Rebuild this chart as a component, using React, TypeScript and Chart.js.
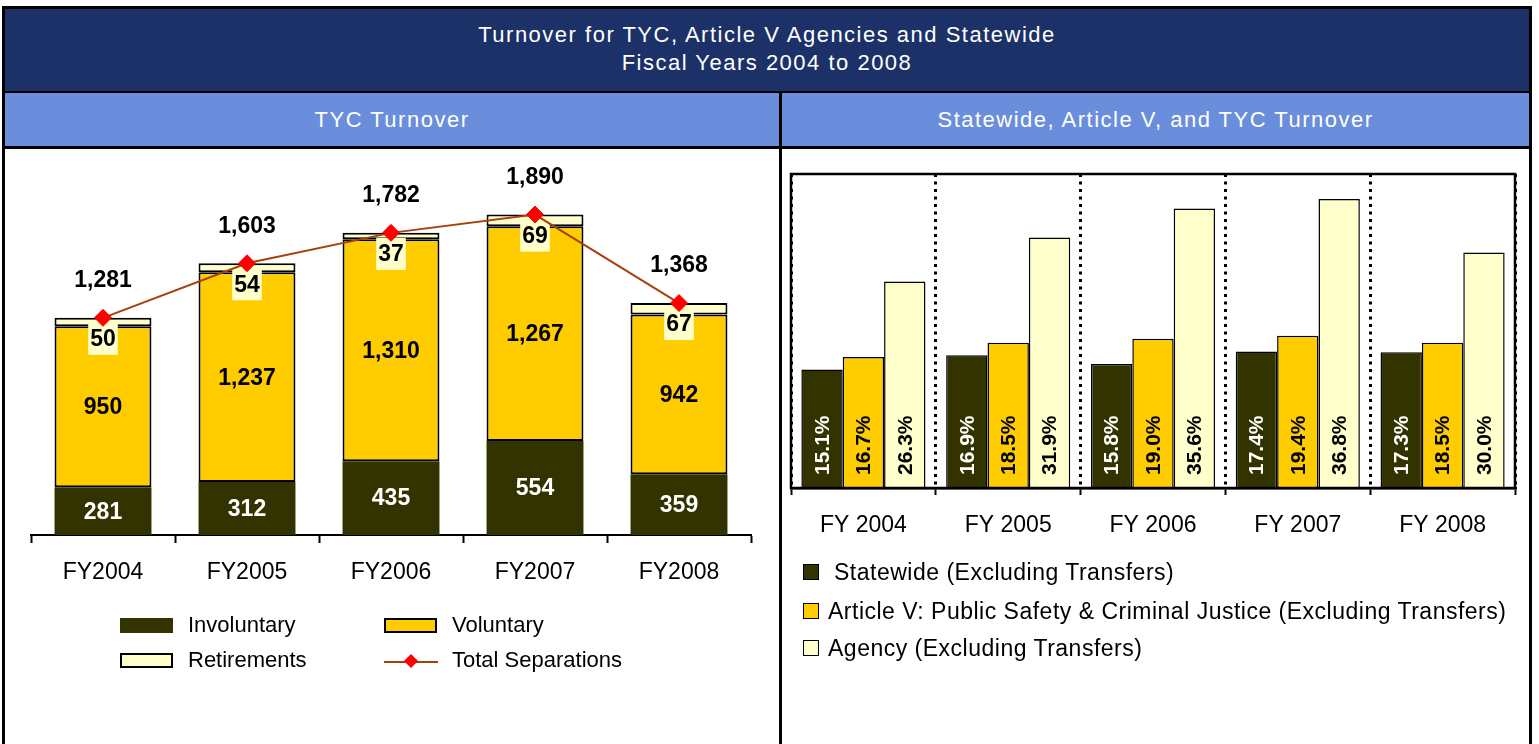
import React, { useEffect, useRef } from "react";
import { Chart, registerables } from "chart.js";

Chart.register(...registerables);

const FONT = '"Liberation Sans", Arial, Helvetica, sans-serif';

// ---------- text ----------
const TITLE_LINE_1 = "Turnover for TYC, Article V Agencies and Statewide";
const TITLE_LINE_2 = "Fiscal Years 2004 to 2008";
const LEFT_SUBTITLE = "TYC Turnover";
const RIGHT_SUBTITLE = "Statewide, Article V, and TYC Turnover";

// ---------- left chart data ----------
const tycYears = ["FY2004", "FY2005", "FY2006", "FY2007", "FY2008"];
const involuntary = [281, 312, 435, 554, 359];
const voluntary = [950, 1237, 1310, 1267, 942];
const retirements = [50, 54, 37, 69, 67];
const totalSeparations = [1281, 1603, 1782, 1890, 1368];
const tycLegend = ["Involuntary", "Voluntary", "Retirements", "Total Separations"];

// ---------- right chart data ----------
const cmpYears = ["FY 2004", "FY 2005", "FY 2006", "FY 2007", "FY 2008"];
const statewide = [15.1, 16.9, 15.8, 17.4, 17.3];
const articleV = [16.7, 18.5, 19.0, 19.4, 18.5];
const agency = [26.3, 31.9, 35.6, 36.8, 30.0];
const cmpLegend = [
  "Statewide (Excluding Transfers)",
  "Article V: Public Safety & Criminal Justice (Excluding Transfers)",
  "Agency (Excluding Transfers)",
];

// ---------- colours ----------
const DARK = "#333300";
const GOLD = "#FFCC00";
const CREAM = "#FFFFCC";
const NAVY = "#1B3168";
const BLUE = "#6A8EDB";
const LINE = "#A8400C";
const DIAMOND = "#FF0000";

const fmt = (v: number) => v.toLocaleString("en-US");

function TycChart() {
  const ref = useRef<HTMLCanvasElement | null>(null);
  useEffect(() => {
    if (!ref.current) return;
    const labelPlugin = {
      id: "tycLabels",
      beforeDatasetDraw(chart: any, args: any) {
        if (args.index !== 0) return;
        const ctx = chart.ctx;
        ctx.save();
        ctx.font = `bold 23px ${FONT}`;
        ctx.textAlign = "center";
        ctx.textBaseline = "middle";
        [1, 2].forEach((di) => {
          const meta = chart.getDatasetMeta(di);
          meta.data.forEach((el: any, i: number) => {
            ctx.fillStyle = di === 1 ? "#FFFFFF" : "#000000";
            ctx.fillText(fmt(chart.data.datasets[di].data[i]), el.x, (el.y + el.base) / 2 + 1);
          });
        });
        const m3 = chart.getDatasetMeta(3);
        m3.data.forEach((el: any, i: number) => {
          const t = fmt(chart.data.datasets[3].data[i]);
          const w = ctx.measureText(t).width + 4;
          const cy = el.y + 21;
          ctx.fillStyle = CREAM;
          ctx.fillRect(el.x - w / 2, cy - 16, w, 32);
          ctx.fillStyle = "#000000";
          ctx.fillText(t, el.x, cy + 1);
        });
        ctx.restore();
      },
      afterDatasetsDraw(chart: any) {
        const ctx = chart.ctx;
        ctx.save();
        ctx.font = `bold 23px ${FONT}`;
        ctx.textAlign = "center";
        ctx.textBaseline = "middle";
        ctx.fillStyle = "#000000";
        const m0 = chart.getDatasetMeta(0);
        m0.data.forEach((el: any, i: number) => {
          ctx.fillText(fmt(chart.data.datasets[0].data[i]), el.x, el.y - 37);
        });
        ctx.restore();
      },
    };
    const chart = new Chart(ref.current, {
      type: "bar",
      data: {
        labels: tycYears,
        datasets: [
          {
            type: "line",
            label: tycLegend[3],
            data: totalSeparations,
            stack: "total",
            order: 0,
            borderColor: LINE,
            borderWidth: 2,
            pointStyle: "rectRot",
            pointRadius: 8.5,
            pointBackgroundColor: DIAMOND,
            pointBorderColor: DIAMOND,
            pointBorderWidth: 1,
            tension: 0,
            fill: false,
          } as any,
          {
            type: "bar",
            label: tycLegend[0],
            data: involuntary,
            stack: "s",
            order: 1,
            backgroundColor: DARK,
            borderWidth: 0,
          },
          {
            type: "bar",
            label: tycLegend[1],
            data: voluntary,
            stack: "s",
            order: 1,
            backgroundColor: GOLD,
            borderColor: "#000000",
            borderWidth: 2,
            borderSkipped: false,
          },
          {
            type: "bar",
            label: tycLegend[2],
            data: retirements,
            stack: "s",
            order: 1,
            backgroundColor: CREAM,
            borderColor: "#000000",
            borderWidth: 2,
            borderSkipped: false,
          },
        ],
      },
      options: {
        responsive: false,
        animation: false,
        events: [],
        datasets: { bar: { barPercentage: 0.673, categoryPercentage: 1 } },
        layout: { padding: { left: 26, right: 28, top: 13, bottom: 0 } },
        plugins: { legend: { display: false }, tooltip: { enabled: false }, title: { display: false } },
        scales: {
          x: {
            stacked: true,
            offset: true,
            grid: {
              display: true,
              offset: true,
              drawOnChartArea: false,
              drawTicks: true,
              tickLength: 8,
              tickColor: "#000000",
              tickWidth: 2,
            },
            border: { display: true, color: "#000000", width: 2 },
            ticks: { color: "#000000", font: { family: FONT, size: 23 }, padding: 16, maxRotation: 0, autoSkip: false },
            afterFit: (s: any) => {
              s.height = 209;
            },
          },
          y: { stacked: true, display: false, min: 0, max: 2200 },
        },
      } as any,
      plugins: [labelPlugin],
    });
    return () => chart.destroy();
  }, []);
  return <canvas ref={ref} width={774} height={595} style={{ display: "block" }} />;
}

function CompareChart() {
  const ref = useRef<HTMLCanvasElement | null>(null);
  useEffect(() => {
    if (!ref.current) return;
    const framePlugin = {
      id: "frame",
      afterDatasetsDraw(chart: any) {
        const { ctx, chartArea } = chart;
        ctx.save();
        ctx.strokeStyle = "#000000";
        ctx.lineWidth = 2.5;
        ctx.strokeRect(chartArea.left, chartArea.top, chartArea.right - chartArea.left, chartArea.bottom - chartArea.top);
        ctx.restore();
      },
    };
    const labelPlugin = {
      id: "pctLabels",
      afterDatasetsDraw(chart: any) {
        const ctx = chart.ctx;
        chart.data.datasets.forEach((ds: any, di: number) => {
          const meta = chart.getDatasetMeta(di);
          meta.data.forEach((el: any, i: number) => {
            ctx.save();
            ctx.font = `bold 21px ${FONT}`;
            ctx.translate(el.x, el.base - 13);
            ctx.rotate(-Math.PI / 2);
            ctx.textAlign = "left";
            ctx.textBaseline = "middle";
            ctx.fillStyle = di === 0 ? "#FFFFFF" : "#000000";
            ctx.fillText(ds.data[i].toFixed(1) + "%", 0, 1);
            ctx.restore();
          });
        });
      },
    };
    const chart = new Chart(ref.current, {
      type: "bar",
      data: {
        labels: cmpYears,
        datasets: [
          { label: cmpLegend[0], data: statewide, backgroundColor: DARK, borderColor: "#000000", borderWidth: 1.5 },
          { label: cmpLegend[1], data: articleV, backgroundColor: GOLD, borderColor: "#000000", borderWidth: 1.5 },
          { label: cmpLegend[2], data: agency, backgroundColor: CREAM, borderColor: "#000000", borderWidth: 1.5 },
        ],
      },
      options: {
        responsive: false,
        animation: false,
        events: [],
        datasets: { bar: { barPercentage: 1, categoryPercentage: 0.857 } },
        layout: { padding: { left: 9, right: 14, top: 25, bottom: 0 } },
        plugins: { legend: { display: false }, tooltip: { enabled: false }, title: { display: false } },
        scales: {
          x: {
            offset: true,
            grid: {
              display: true,
              offset: true,
              drawOnChartArea: true,
              color: "#000000",
              lineWidth: 3,
              drawTicks: true,
              tickLength: 7,
              tickColor: "#000000",
              tickWidth: 2,
              tickBorderDash: [],
            },
            border: { display: true, color: "#000000", width: 2.5, dash: [3, 4.5] },
            ticks: { color: "#000000", font: { family: FONT, size: 23 }, padding: 17, maxRotation: 0, autoSkip: false },
            afterFit: (s: any) => {
              s.height = 256;
            },
          },
          y: { display: false, min: 0, max: 40 },
        },
      } as any,
      plugins: [framePlugin, labelPlugin],
    });
    return () => chart.destroy();
  }, []);
  return <canvas ref={ref} width={747} height={595} style={{ display: "block" }} />;
}

const abs = (left: number, top: number, extra: React.CSSProperties = {}): React.CSSProperties => ({
  position: "absolute",
  left,
  top,
  ...extra,
});

const legendText: React.CSSProperties = {
  fontFamily: FONT,
  fontSize: 22,
  color: "#000",
  lineHeight: "26px",
  whiteSpace: "nowrap",
};

export default function App() {
  const headerText: React.CSSProperties = {
    fontFamily: FONT,
    fontSize: 22,
    letterSpacing: "1.5px",
    color: "#FFFFFF",
    textAlign: "center",
    whiteSpace: "nowrap",
  };
  const rightLegendText: React.CSSProperties = { ...legendText, fontSize: 23, letterSpacing: "0.5px", lineHeight: "28px" };
  return (
    <div style={{ position: "absolute", left: 0, top: 0, width: 1539, height: 744, overflow: "hidden", background: "#fff" }}>
      <style>{`body{margin:0}`}</style>
      {/* frame (black) */}
      <div style={abs(2, 6, { width: 1530, height: 800, background: "#000" })} />
      {/* header */}
      <div style={abs(5, 9, { width: 1524, height: 82, background: NAVY })}>
        <div style={{ ...headerText, lineHeight: "28px", paddingTop: 12 }}>
          <div>{TITLE_LINE_1}</div>
          <div>{TITLE_LINE_2}</div>
        </div>
      </div>
      {/* sub headers */}
      <div style={abs(5, 93, { width: 774, height: 53, background: BLUE })}>
        <div style={{ ...headerText, lineHeight: "53px" }}>{LEFT_SUBTITLE}</div>
      </div>
      <div style={abs(782, 93, { width: 747, height: 53, background: BLUE })}>
        <div style={{ ...headerText, lineHeight: "53px" }}>{RIGHT_SUBTITLE}</div>
      </div>
      {/* content panels */}
      <div style={abs(5, 149, { width: 774, height: 595, background: "#fff" })}>
        <TycChart />
      </div>
      <div style={abs(782, 149, { width: 747, height: 595, background: "#fff" })}>
        <CompareChart />
      </div>

      {/* left legend */}
      <div style={abs(120, 618, { width: 53, height: 15, background: DARK })} />
      <div style={abs(188, 612, legendText)}>{tycLegend[0]}</div>
      <div style={abs(384, 618, { width: 53, height: 15, background: GOLD, border: "2px solid #000", boxSizing: "border-box" })} />
      <div style={abs(452, 612, legendText)}>{tycLegend[1]}</div>
      <div style={abs(120, 653, { width: 53, height: 15, background: CREAM, border: "2px solid #000", boxSizing: "border-box" })} />
      <div style={abs(188, 647, legendText)}>{tycLegend[2]}</div>
      <div style={abs(384, 661, { width: 54, height: 2, background: LINE })} />
      <div style={abs(406, 656, { width: 10, height: 10, background: DIAMOND, transform: "rotate(45deg)" })} />
      <div style={abs(452, 647, legendText)}>{tycLegend[3]}</div>

      {/* right legend */}
      <div style={abs(803, 564, { width: 16, height: 16, background: DARK, border: "1.5px solid #000", boxSizing: "border-box" })} />
      <div style={abs(834, 558, rightLegendText)}>{cmpLegend[0]}</div>
      <div style={abs(803, 603, { width: 16, height: 16, background: GOLD, border: "1.5px solid #000", boxSizing: "border-box" })} />
      <div style={abs(828, 597, rightLegendText)}>{cmpLegend[1]}</div>
      <div style={abs(803, 640, { width: 16, height: 16, background: CREAM, border: "1.5px solid #000", boxSizing: "border-box" })} />
      <div style={abs(828, 634, rightLegendText)}>{cmpLegend[2]}</div>
    </div>
  );
}
